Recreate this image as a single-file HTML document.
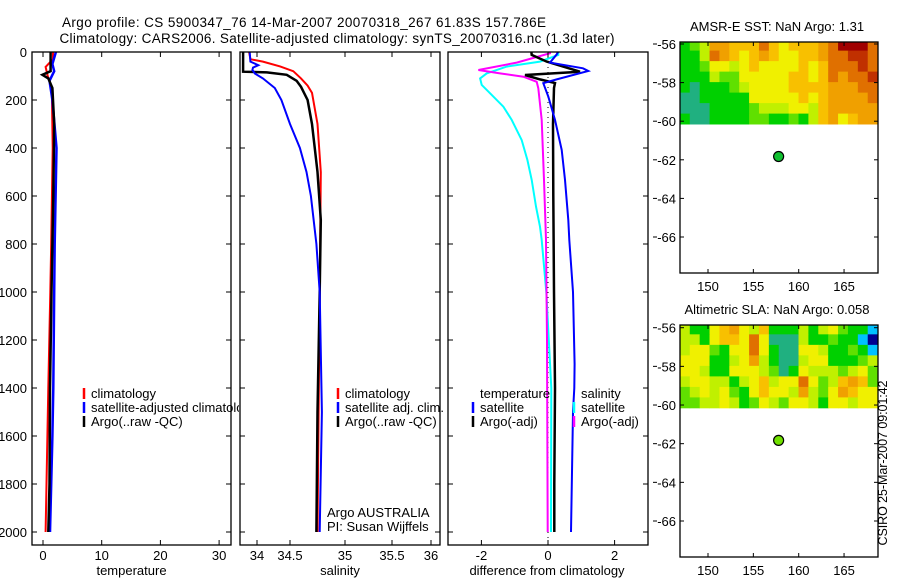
<!DOCTYPE html>
<html><head><meta charset="utf-8"><style>
html,body{margin:0;padding:0;background:#fff;}
svg{display:block;font-family:"Liberation Sans",sans-serif;}
text{fill:#000;}
</style></head><body>
<svg id="s" width="900" height="580" viewBox="0 0 900 580">
<defs>
<clipPath id="c1"><rect x="32" y="52" width="199" height="493"/></clipPath>
<clipPath id="c2"><rect x="240" y="52" width="200" height="493"/></clipPath>
<clipPath id="c3"><rect x="448" y="52" width="200" height="493"/></clipPath>
<clipPath id="cl1"><rect x="32" y="380" width="207" height="60"/></clipPath>
<clipPath id="m1"><rect x="680" y="42" width="198" height="231"/></clipPath>
<clipPath id="m2"><rect x="680" y="325" width="198" height="232"/></clipPath>
</defs>
<text x="304" y="27" font-size="13.5" text-anchor="middle" textLength="484">Argo profile: CS 5900347_76 14-Mar-2007 20070318_267 61.83S 157.786E</text>
<text x="337" y="43" font-size="13.5" text-anchor="middle" textLength="555">Climatology: CARS2006. Satellite-adjusted climatology: synTS_20070316.nc (1.3d later)</text>
<g id="g"></g>
</svg>
<script>
// ---------- data ----------
const depthTicks=[0,200,400,600,800,1000,1200,1400,1600,1800,2000];
const tempTicks=[0,10,20,30];
const salTicks=[34,34.5,35,35.5,36];
const salTickLabels=["34","34.5","35","35.5","36"];
const diffTicks=[-2,0,2];
const tClimD=[0,30,62,100,150,400,800,1000,1400,2000];
const tClimV=[1.7,1.7,0.45,0.8,1.5,1.65,1.4,1.25,0.9,0.45];
const tArgoD=[0,80,95,110,150,300,600,1000,1400,1800,2000];
const tArgoV=[1.3,1.3,-0.1,0.9,1.6,1.9,1.75,1.45,1.2,1.1,0.9];
const tSatD=[0,50,80,120,200,400,800,1000,1400,1600,2000];
const tSatV=[2.2,1.6,1.9,1.1,1.6,2.3,2.0,1.9,1.75,1.6,1.2];
const sClimD=[0,30,40,60,80,110,140,170,300,500,1000,2000];
const sClimV=[33.88,33.9,34.09,34.35,34.53,34.6,34.66,34.7,34.75,34.78,34.77,34.75];
const sArgoD=[0,82,85,95,120,145,200,300,500,700,1000,1500,2000];
const sArgoV=[33.79,33.79,34.15,34.45,34.56,34.6,34.66,34.7,34.75,34.78,34.77,34.75,34.74];
const sSatD=[0,40,55,65,75,90,110,150,200,300,400,500,600,800,1000,1500,2000];
const sSatV=[33.89,33.9,34.02,33.94,33.93,33.97,34.09,34.27,34.37,34.5,34.59,34.65,34.69,34.74,34.77,34.79,34.77];
const dTArgoD=[0,12,40,82,96,114,129,150,300,600,1000,1400,1800,2000];
const dTArgoV=[-0.5,-0.49,-0.04,0.96,-0.69,-0.24,0.21,0.18,0.15,0.16,0.18,0.21,0.19,0.19];
const dSSatD=[0,10,44,68,79,114,130,186,283,408,533,700,783,1000,1300,1400,1500,2000];
const dSSatV=[0.3,0.26,0.06,1.05,1.21,0.26,-0.14,0.01,0.21,0.41,0.51,0.61,0.64,0.75,0.8,0.79,0.75,0.69];
const dSArgoD=[0,5,44,75,89,103,124,151,283,533,783,1200,2000];
const dSArgoV=[0.06,0.06,-0.94,-2.09,-1.44,-0.74,-0.34,-0.29,-0.19,-0.12,-0.06,-0.03,-0.01];
const dTSatD=[0,12,40,61,89,110,137,172,228,283,367,450,533,644,728,783,1000,1400,2000];
const dTSatV=[0.31,0.31,-0.24,-1.24,-1.84,-2.04,-1.99,-1.74,-1.34,-1.09,-0.79,-0.62,-0.49,-0.36,-0.24,-0.19,-0.05,0.1,0.09];
const latTicks=[-56,-58,-60,-62,-64,-66];
const lonTicks=[150,155,160,165];
const argoLon=157.786, argoLat=-61.83;
const sstGrid=[
[4,5,6,9,9,8,8,8,10,8,7,8,8,8,9,10,12,12,12,10],
[4,4,6,10,9,8,7,8,9,8,7,7,8,8,9,10,10,11,11,10],
[4,4,5,7,7,6,7,8,7,7,7,7,8,7,8,10,10,10,11,10],
[4,4,4,6,5,5,7,7,7,7,7,8,8,7,8,10,9,10,10,11],
[4,3,4,4,4,5,6,7,7,7,7,8,8,8,8,9,9,9,10,10],
[3,3,4,4,4,4,4,7,7,7,7,7,8,7,8,9,9,9,9,10],
[3,3,3,4,4,4,4,5,6,6,6,7,7,6,8,9,9,9,9,9],
[4,3,3,4,4,4,4,5,5,4,4,5,4,6,8,9,7,8,9,9]];
const slaGrid=[
[6,4,4,7,8,9,7,6,8,4,4,4,6,4,6,7,5,4,4,2],
[6,6,4,7,8,8,7,10,7,3,3,3,6,4,4,5,4,4,2,0],
[6,7,7,5,4,7,7,10,7,4,3,3,7,7,6,4,4,5,4,2],
[7,7,7,4,4,6,7,9,6,4,3,3,6,7,7,4,4,4,5,6],
[7,7,6,4,4,7,7,7,6,5,3,4,7,6,6,6,5,6,7,5],
[6,7,7,6,6,4,6,7,8,6,7,7,10,7,5,6,8,9,8,5],
[5,6,7,6,7,5,4,7,8,7,7,6,9,6,5,7,9,8,7,7],
[5,5,6,6,7,6,4,5,7,6,5,7,7,6,4,7,7,6,7,7]];
const cmap=["#000090","#0050ff","#00c0ff","#20b080","#00d000","#60e000","#c0f000","#f0f000","#f8c000","#f0a000","#e07000","#c03000","#a00000"];
const gridLon0=146.9, gridLon1=168.7, gridLat0=-55.8, gridLat1=-60.15;

// ---------- helpers ----------
const NS="http://www.w3.org/2000/svg";
const G=document.getElementById('g');
function mk(tag,attrs,parent,txt){const e=document.createElementNS(NS,tag);for(const k in attrs)e.setAttribute(k,attrs[k]);if(txt!==undefined)e.textContent=txt;(parent||G).appendChild(e);return e;}
const yD=d=>52+d*0.24;
const xT=v=>43+v*5.87;
const sK=[34,34.5,35,35.5,36], sP=[257,290,345,392,431];
function xS(v){let i=0;if(v<=sK[0])i=0;else if(v>=sK[4])i=3;else{while(v>sK[i+1])i++;}return sP[i]+(v-sK[i])*(sP[i+1]-sP[i])/(sK[i+1]-sK[i]);}
const xDf=v=>548+v*33.3;
const lonX=l=>708+(l-150)*9.07;
const latY1=l=>44+(-56-l)*19.3;
const latY2=l=>327.7+(-56-l)*19.33;

function line(D,V,fx,clip,color,name,w){
  const pts=D.map((d,i)=>fx(V[i]).toFixed(1)+","+yD(d).toFixed(1)).join(" ");
  const p=mk('polyline',{points:pts,fill:'none',stroke:color,'stroke-width':w||2,'clip-path':'url(#'+clip+')'});
  
  
}
function panel(x0,x1,name,clip,xticks,fx,xlabels,xtitle,ylabels){
  const r=mk('rect',{x:x0,y:52,width:x1-x0,height:493,fill:'none',stroke:'#000','stroke-width':1.3});
  
  
  depthTicks.forEach(d=>{
    const y=yD(d);
    mk('line',{x1:x0,x2:x0+5,y1:y,y2:y,stroke:'#000'});
    mk('line',{x1:x1-5,x2:x1,y1:y,y2:y,stroke:'#000'});
    if(ylabels){const t=mk('text',{x:27,y:y+5,'font-size':13,'text-anchor':'end'},G,String(d));
      
      }
  });
  xticks.forEach((v,i)=>{
    const x=fx(v);
    mk('line',{x1:x,x2:x,y1:52,y2:57,stroke:'#000'});
    mk('line',{x1:x,x2:x,y1:540,y2:545,stroke:'#000'});
    const t=mk('text',{x:x,y:560,'font-size':13,'text-anchor':'middle'},G,xlabels[i]);
    
    
  });
  const tt=mk('text',{x:(x0+x1)/2+(name==='difference-panel'?-1:0),y:575,'font-size':13,'text-anchor':'middle'},G,xtitle);
  
  
}
function legend(x,y0,items,clip){
  items.forEach((it,i)=>{
    const y=y0+i*14;
    if(it[1]){const m=mk('line',{x1:x,x2:x,y1:y-8,y2:y+3,stroke:it[1],'stroke-width':2.5});
      
      }
    const a={x:x+7,y:y+2,'font-size':13};if(clip)a['clip-path']='url(#'+clip+')';
    const t=mk('text',a,G,it[0]);
    
    
  });
}

// ---------- panel 1: temperature ----------
line(tClimD,tClimV,xT,'c1','#ff0000','temp-climatology-line');
line(tSatD,tSatV,xT,'c1','#0000ff','temp-satellite-line',2.5);
line(tArgoD,tArgoV,xT,'c1','#000000','temp-argo-line',2.5);
panel(32,231,'temperature-panel','c1',tempTicks,xT,tempTicks.map(String),'temperature',true);
legend(84,396,[["climatology","#ff0000"],["satellite-adjusted climatology","#0000ff"],["Argo(..raw -QC)","#000"]],'cl1');

// ---------- panel 2: salinity ----------
line(sClimD,sClimV,xS,'c2','#ff0000','sal-climatology-line');
line(sArgoD,sArgoV,xS,'c2','#000000','sal-argo-line',2.5);
line(sSatD,sSatV,xS,'c2','#0000ff','sal-satellite-line');
panel(240,440,'salinity-panel','c2',salTicks,xS,salTickLabels,'salinity',false);
legend(338,396,[["climatology","#ff0000"],["satellite adj. clim.","#0000ff"],["Argo(..raw -QC)","#000"]]);
[["Argo AUSTRALIA",517],["PI: Susan Wijffels",531]].forEach(a=>{
  const t=mk('text',{x:327,y:a[1],'font-size':13},G,a[0]);
  
  
});

// ---------- panel 3: differences ----------
const zl=mk('line',{x1:xDf(0),x2:xDf(0),y1:52,y2:545,stroke:'#000','stroke-dasharray':'1,4'});


line(dTSatD,dTSatV,xDf,'c3','#00ffff','temp-satellite-diff-line');
line(dSArgoD,dSArgoV,xDf,'c3','#ff00ff','sal-argo-diff-line');
line(dTArgoD,dTArgoV,xDf,'c3','#000000','temp-argo-diff-line',2.5);
line(dSSatD,dSSatV,xDf,'c3','#0000ff','sal-satellite-diff-line');
panel(448,648,'difference-panel','c3',diffTicks,xDf,diffTicks.map(String),'difference from climatology',false);
legend(473,396,[["temperature",null],["satellite","#0000ff"],["Argo(-adj)","#000"]]);
legend(574,396,[["salinity",null],["satellite","#00ffff"],["Argo(-adj)","#ff00ff"]]);

// ---------- maps ----------
function map(top,bot,latY,grid,clip,title,name,dotColor){
  const rows=grid.length, cols=grid[0].length;
  const dLon=(gridLon1-gridLon0)/cols, dLat=(gridLat1-gridLat0)/rows;
  grid.forEach((row,r)=>row.forEach((v,c)=>{
    const x=lonX(gridLon0+c*dLon), y=latY(gridLat0+r*dLat);
    const cell=mk('rect',{x:x.toFixed(2),y:y.toFixed(2),width:(lonX(gridLon0+(c+1)*dLon)-x+0.4).toFixed(2),height:(latY(gridLat0+(r+1)*dLat)-y+0.4).toFixed(2),fill:cmap[v],'clip-path':'url(#'+clip+')'});
    
    
  }));
  const fr=mk('rect',{x:680,y:top,width:198,height:bot-top,fill:'none',stroke:'#000','stroke-width':1.3});
  
  
  latTicks.forEach(l=>{
    const y=latY(l);
    mk('line',{x1:680,x2:684,y1:y,y2:y,stroke:'#000'});
    mk('line',{x1:874,x2:878,y1:y,y2:y,stroke:'#000'});
    mk('line',{x1:653,x2:657,y1:y,y2:y,stroke:'#000'});
    const t=mk('text',{x:676,y:y+5,'font-size':13,'text-anchor':'end'},G,String(l));
    
    
  });
  lonTicks.forEach(l=>{
    const x=lonX(l);
    mk('line',{x1:x,x2:x,y1:top,y2:top+4,stroke:'#000'});
    mk('line',{x1:x,x2:x,y1:bot-4,y2:bot,stroke:'#000'});
    const t=mk('text',{x:x,y:bot+18,'font-size':13,'text-anchor':'middle'},G,String(l));
    
    
  });
  const tt=mk('text',{x:777,y:top-11,'font-size':13,'text-anchor':'middle'},G,title);
  
  
  const dot=mk('circle',{cx:lonX(argoLon),cy:latY(argoLat),r:5,fill:dotColor,stroke:'#000','stroke-width':1.2});
  
  
}
map(42,273,latY1,sstGrid,'m1','AMSR-E SST: NaN Argo: 1.31','sst-map','#10c030');
map(325,557,latY2,slaGrid,'m2','Altimetric SLA: NaN Argo: 0.058','sla-map','#70e000');
const cs=mk('text',{x:0,y:0,'font-size':12.5,'text-anchor':'middle',transform:'translate(887,463) rotate(-90)',textLength:165},G,'CSIRO 25-Mar-2007 09:01:42');


</script>
</body></html>
